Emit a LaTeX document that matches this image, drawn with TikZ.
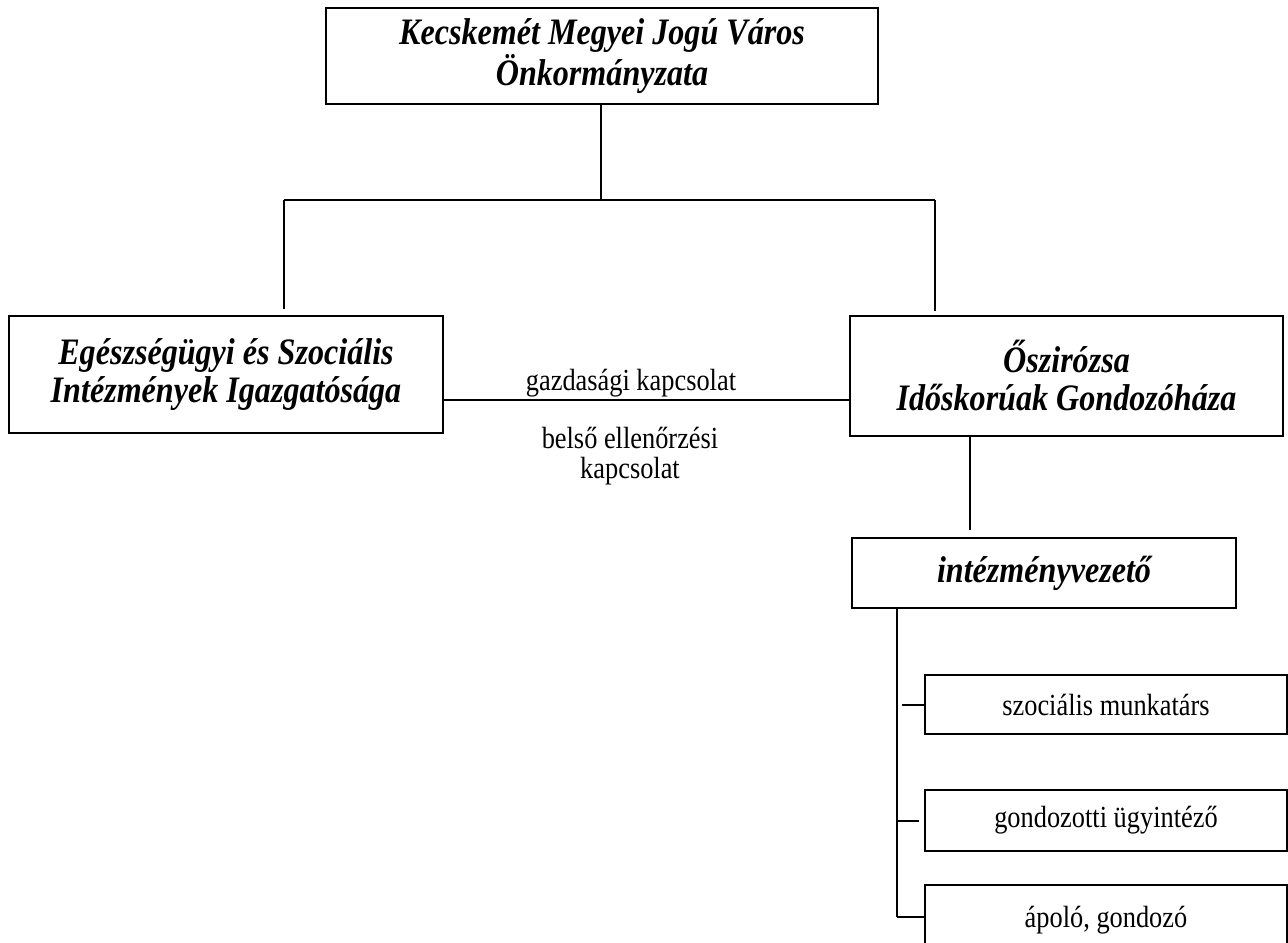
\documentclass[tikz,border=0pt]{standalone}
\usepackage{fontspec}
\setmainfont{Liberation Serif}[FakeStretch=0.86]
\usepackage{tikz}
\usetikzlibrary{positioning}

\tikzset{
	orgbox/.style={draw, line width=1.9pt, inner sep=0pt, align=center, font=\bfseries\itshape\fontsize{28}{28.5}\selectfont},
	staffbox/.style={draw, line width=1.6pt, inner sep=0pt, align=center, font=\fontsize{23}{23}\selectfont},
	link/.style={line width=1.5pt},
	linklabel/.style={align=center, inner sep=0pt, font=\fontsize{23}{23}\selectfont}
}

\begin{document}
\begin{tikzpicture}[x=0.75pt, y=-0.75pt]
				\useasboundingbox (0,0) rectangle (1288,942);
				%Nodes
				\node[orgbox, minimum width=414pt, minimum height=72pt] (kmjv) at (602,56) {Kecskemét Megyei Jogú Város\\Önkormányzata};
				\node[orgbox, minimum width=325.5pt, minimum height=87.75pt] (eszii) at (226,374.5) {Egészségügyi és Szociális\\Intézmények Igazgatósága};
				\node[orgbox, minimum width=324.75pt, minimum height=90pt] (osz) at (1066.5,376) {Őszirózsa\\Időskorúak Gondozóháza};
				\node[orgbox, minimum width=288pt, minimum height=52.5pt] (iv) at (1044,573) {intézményvezető};
				\node[staffbox, minimum width=271.5pt, minimum height=44.25pt] (szm) at (1106,704.5) {szociális munkatárs};
				\node[staffbox, minimum width=271.5pt, minimum height=45.75pt] (gu) at (1106,820.5) {gondozotti ügyintéző};
				\node[staffbox, minimum width=271.5pt, minimum height=52.5pt] (ag) at (1106,920) {ápoló, gondozó};
				\node[linklabel] (gazd) at (631,383) {gazdasági kapcsolat};
				\node[linklabel] (bell) at (630,456) {belső ellenőrzési\\kapcsolat};
				\coordinate      (top) 	at 	(601,200);
				\coordinate      (topl) 	at 	(284,200);
				\coordinate      (topr) 	at 	(935,200);
				\coordinate      (econ) 	at 	(646,400);
				\coordinate      (ivline) 	at 	(970,0);
				\coordinate      (spine) 	at 	(897,917);
				
				%Lines
				\draw[link] (kmjv.south -| top) -- (top);
				\draw[link] (topl) -- (topr);
				\draw[link, shorten >=4.5pt] (topl) -- (topl |- eszii.north);
				\draw[link, shorten >=3pt] (topr) -- (topr |- osz.north);
				\draw[link] (eszii.east |- econ) -- (osz.west |- econ);
				\draw[link, shorten >=5pt] (osz.south -| ivline) -- (iv.north -| ivline);
				\draw[link] (iv.south -| spine) -- (spine);
				\draw[link, shorten >=3.75pt] (szm.west) -- (szm.west -| spine);
				\draw[link, shorten <=3.75pt] (gu.west) -- (gu.west -| spine);
				\draw[link] (ag.west |- spine) -- (spine);

		\end{tikzpicture}
\end{document}
